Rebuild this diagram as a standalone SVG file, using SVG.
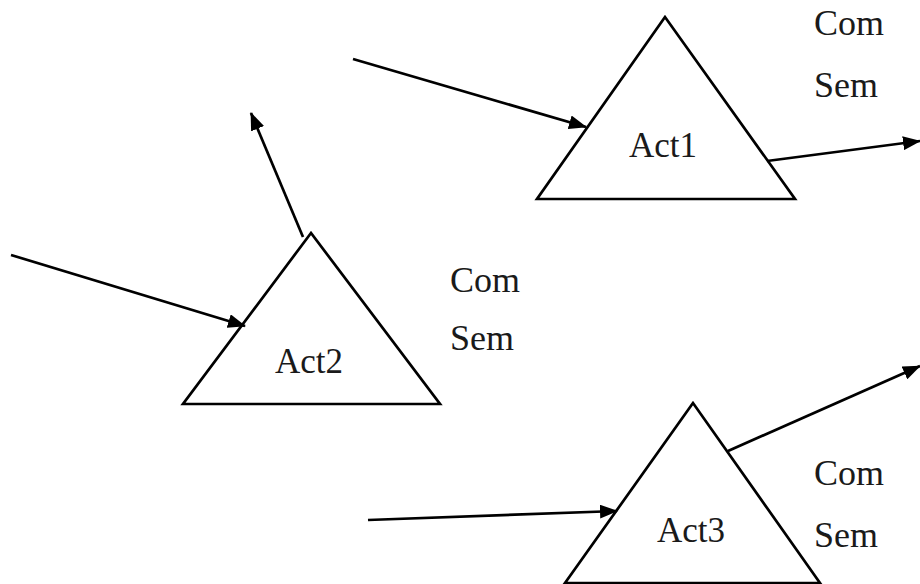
<svg xmlns="http://www.w3.org/2000/svg" width="920" height="584" viewBox="0 0 920 584">
<style>
.tri{fill:none;stroke:#000;stroke-width:2.7;stroke-linejoin:miter}
.c{fill:none;stroke:#000;stroke-width:2.7}
text{font-family:"Liberation Serif","Times New Roman",serif;font-size:35px;fill:#1a1a1a}
.lb{font-size:36px}
</style>
<defs>
<marker id="ah" markerWidth="18" markerHeight="14" refX="17" refY="7" orient="auto" markerUnits="userSpaceOnUse">
<path d="M0,0 L18,7 L0,14 Z" fill="#000"/>
</marker>
</defs>
<rect width="920" height="584" fill="#fff"/>
<g id="act1">
<polygon class="tri" points="665,17 537,199 795,199"/>
<text x="629" y="157">Act1</text>
</g>
<g id="act2">
<polygon class="tri" points="311,233 183,404 440,404"/>
<text x="275" y="373">Act2</text>
</g>
<g id="act3">
<polygon class="tri" points="693,403 565,583 820,583"/>
<text x="657" y="542">Act3</text>
</g>
<g id="labels">
<text class="lb" x="814" y="35">Com</text>
<text class="lb" x="814" y="97">Sem</text>
<text class="lb" x="450" y="292">Com</text>
<text class="lb" x="450" y="350">Sem</text>
<text class="lb" x="814" y="485">Com</text>
<text class="lb" x="814" y="547">Sem</text>
</g>
<g id="connectors">
<line class="c" x1="353" y1="59" x2="586" y2="127" marker-end="url(#ah)"/>
<line class="c" x1="767" y1="161" x2="920" y2="141" marker-end="url(#ah)"/>
<line class="c" x1="303" y1="237" x2="251" y2="113" marker-end="url(#ah)"/>
<line class="c" x1="11" y1="255" x2="245" y2="326" marker-end="url(#ah)"/>
<line class="c" x1="368" y1="520" x2="617" y2="511" marker-end="url(#ah)"/>
<line class="c" x1="728" y1="451" x2="920" y2="366" marker-end="url(#ah)"/>
</g>
</svg>
